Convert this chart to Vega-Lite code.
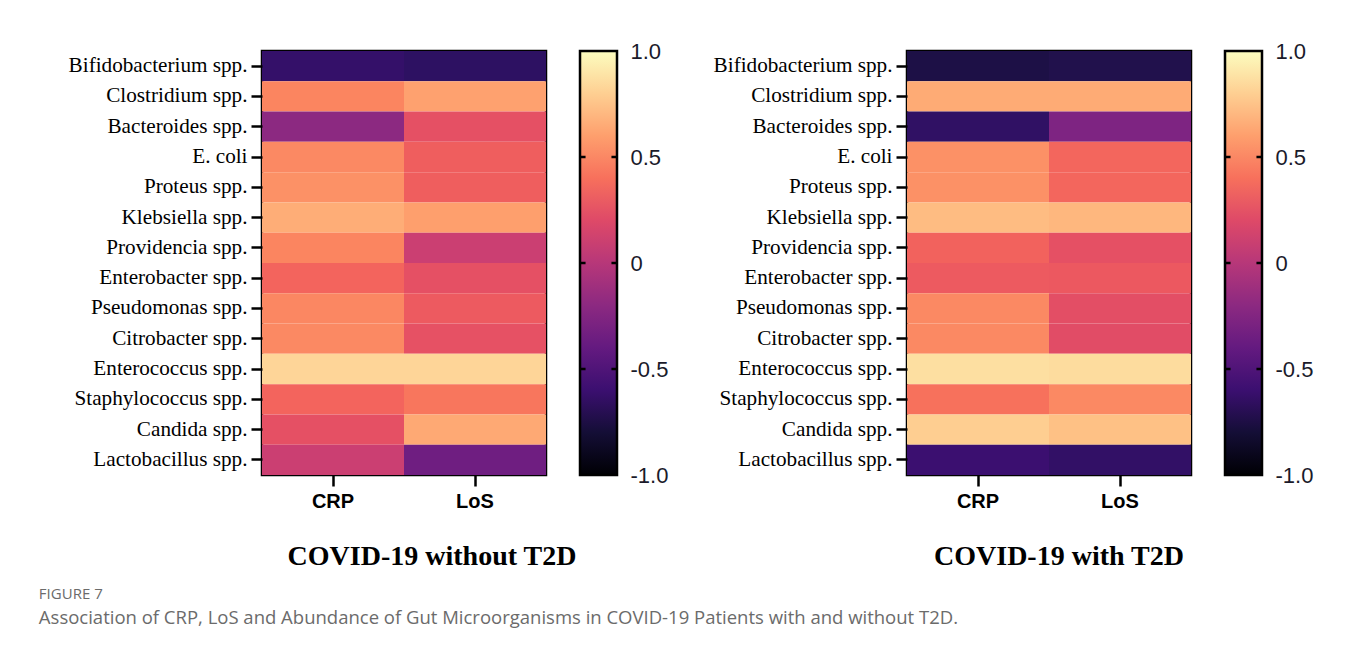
{
  "$schema": "https://vega.github.io/schema/vega-lite/v6.json",
  "background": "white",
  "padding": {"left": 38, "top": 40, "right": 10, "bottom": 10},
  "datasets": {
    "noT2D": [
      {"taxon": "Bifidobacterium spp.", "measure": "CRP", "r": -0.63}, {"taxon": "Bifidobacterium spp.", "measure": "LoS", "r": -0.66},
      {"taxon": "Clostridium spp.", "measure": "CRP", "r": 0.49}, {"taxon": "Clostridium spp.", "measure": "LoS", "r": 0.61},
      {"taxon": "Bacteroides spp.", "measure": "CRP", "r": -0.2}, {"taxon": "Bacteroides spp.", "measure": "LoS", "r": 0.24},
      {"taxon": "E. coli", "measure": "CRP", "r": 0.51}, {"taxon": "E. coli", "measure": "LoS", "r": 0.32},
      {"taxon": "Proteus spp.", "measure": "CRP", "r": 0.54}, {"taxon": "Proteus spp.", "measure": "LoS", "r": 0.32},
      {"taxon": "Klebsiella spp.", "measure": "CRP", "r": 0.66}, {"taxon": "Klebsiella spp.", "measure": "LoS", "r": 0.6},
      {"taxon": "Providencia spp.", "measure": "CRP", "r": 0.49}, {"taxon": "Providencia spp.", "measure": "LoS", "r": 0.1},
      {"taxon": "Enterobacter spp.", "measure": "CRP", "r": 0.35}, {"taxon": "Enterobacter spp.", "measure": "LoS", "r": 0.24},
      {"taxon": "Pseudomonas spp.", "measure": "CRP", "r": 0.5}, {"taxon": "Pseudomonas spp.", "measure": "LoS", "r": 0.3},
      {"taxon": "Citrobacter spp.", "measure": "CRP", "r": 0.51}, {"taxon": "Citrobacter spp.", "measure": "LoS", "r": 0.25},
      {"taxon": "Enterococcus spp.", "measure": "CRP", "r": 0.83}, {"taxon": "Enterococcus spp.", "measure": "LoS", "r": 0.83},
      {"taxon": "Staphylococcus spp.", "measure": "CRP", "r": 0.35}, {"taxon": "Staphylococcus spp.", "measure": "LoS", "r": 0.43},
      {"taxon": "Candida spp.", "measure": "CRP", "r": 0.24}, {"taxon": "Candida spp.", "measure": "LoS", "r": 0.64},
      {"taxon": "Lactobacillus spp.", "measure": "CRP", "r": 0.1}, {"taxon": "Lactobacillus spp.", "measure": "LoS", "r": -0.35}
    ],
    "T2D": [
      {"taxon": "Bifidobacterium spp.", "measure": "CRP", "r": -0.75}, {"taxon": "Bifidobacterium spp.", "measure": "LoS", "r": -0.73},
      {"taxon": "Clostridium spp.", "measure": "CRP", "r": 0.65}, {"taxon": "Clostridium spp.", "measure": "LoS", "r": 0.65},
      {"taxon": "Bacteroides spp.", "measure": "CRP", "r": -0.65}, {"taxon": "Bacteroides spp.", "measure": "LoS", "r": -0.27},
      {"taxon": "E. coli", "measure": "CRP", "r": 0.54}, {"taxon": "E. coli", "measure": "LoS", "r": 0.36},
      {"taxon": "Proteus spp.", "measure": "CRP", "r": 0.54}, {"taxon": "Proteus spp.", "measure": "LoS", "r": 0.36},
      {"taxon": "Klebsiella spp.", "measure": "CRP", "r": 0.72}, {"taxon": "Klebsiella spp.", "measure": "LoS", "r": 0.7},
      {"taxon": "Providencia spp.", "measure": "CRP", "r": 0.34}, {"taxon": "Providencia spp.", "measure": "LoS", "r": 0.24},
      {"taxon": "Enterobacter spp.", "measure": "CRP", "r": 0.3}, {"taxon": "Enterobacter spp.", "measure": "LoS", "r": 0.29},
      {"taxon": "Pseudomonas spp.", "measure": "CRP", "r": 0.51}, {"taxon": "Pseudomonas spp.", "measure": "LoS", "r": 0.23},
      {"taxon": "Citrobacter spp.", "measure": "CRP", "r": 0.51}, {"taxon": "Citrobacter spp.", "measure": "LoS", "r": 0.22},
      {"taxon": "Enterococcus spp.", "measure": "CRP", "r": 0.87}, {"taxon": "Enterococcus spp.", "measure": "LoS", "r": 0.86},
      {"taxon": "Staphylococcus spp.", "measure": "CRP", "r": 0.41}, {"taxon": "Staphylococcus spp.", "measure": "LoS", "r": 0.51},
      {"taxon": "Candida spp.", "measure": "CRP", "r": 0.8}, {"taxon": "Candida spp.", "measure": "LoS", "r": 0.74},
      {"taxon": "Lactobacillus spp.", "measure": "CRP", "r": -0.6}, {"taxon": "Lactobacillus spp.", "measure": "LoS", "r": -0.64}
    ],
    "ticks": [{"v": -0.5}, {"v": 0}, {"v": 0.5}],
    "bar": [{"lo": -1, "hi": 1}]
  },
  "title": {
    "text": "FIGURE 7",
    "subtitle": "Association of CRP, LoS and Abundance of Gut Microorganisms in COVID-19 Patients with and without T2D.",
    "orient": "bottom",
    "anchor": "start",
    "font": "Open Sans",
    "fontSize": 15,
    "fontWeight": "normal",
    "color": "#6b6b6b",
    "subtitleFont": "Open Sans",
    "subtitleFontSize": 18.5,
    "subtitleColor": "#6b6b6b",
    "subtitlePadding": 7,
    "offset": 15,
    "dx": -28
  },
  "spacing": 43,
  "hconcat": [
    {
      "bounds": "flush",
      "spacing": 34,
      "hconcat": [
        {
          "data": {"name": "noT2D"},
          "width": 284,
          "height": 424,
          "title": {"text": "COVID-19 without T2D", "orient": "bottom", "font": "Liberation Serif", "fontSize": 28, "fontWeight": "bold", "color": "black", "dx": 28, "offset": 32},
          "mark": {"type": "rect"},
          "encoding": {
            "x": {"field": "measure", "type": "nominal", "sort": ["CRP", "LoS"], "title": null},
            "y": {"field": "taxon", "type": "nominal", "title": null, "sort": ["Bifidobacterium spp.", "Clostridium spp.", "Bacteroides spp.", "E. coli", "Proteus spp.", "Klebsiella spp.", "Providencia spp.", "Enterobacter spp.", "Pseudomonas spp.", "Citrobacter spp.", "Enterococcus spp.", "Staphylococcus spp.", "Candida spp.", "Lactobacillus spp."]},
            "color": {"field": "r", "type": "quantitative", "scale": {"scheme": "magma", "domain": [-1, 1]}, "legend": null}
          }
        },
        {
          "width": 37,
          "height": 424,
          "view": {"stroke": null},
          "layer": [
            {
              "data": {"name": "bar"},
              "mark": {"type": "rect", "stroke": "black", "strokeWidth": 2.5, "color": {"gradient": "linear", "x1": 0, "y1": 1, "x2": 0, "y2": 0, "stops": [
                {"offset": 0, "color": "#000004"}, {"offset": 0.1, "color": "#140e36"}, {"offset": 0.2, "color": "#3b0f70"}, {"offset": 0.3, "color": "#641a80"}, {"offset": 0.4, "color": "#8c2981"}, {"offset": 0.5, "color": "#b73779"}, {"offset": 0.6, "color": "#de4968"}, {"offset": 0.7, "color": "#f7705c"}, {"offset": 0.8, "color": "#fe9f6d"}, {"offset": 0.9, "color": "#fecf92"}, {"offset": 1, "color": "#fcfdbf"}]}},
              "encoding": {
                "y": {"field": "lo", "type": "quantitative", "scale": {"domain": [-1, 1], "nice": false, "zero": false}, "axis": {"orient": "right", "values": [-1, -0.5, 0, 0.5, 1], "labelExpr": "datum.value == 0 ? '0' : (datum.value < 0 ? '-' : '') + format(abs(datum.value), '.1f')", "domain": false, "ticks": false, "grid": false, "labelFont": "Liberation Sans", "labelFontSize": 22, "labelColor": "#1a1a2a", "labelPadding": 13, "labelFlush": false, "labelOverlap": false, "title": null}},
                "y2": {"field": "hi"},
                "x": {"datum": 0, "type": "quantitative", "scale": {"domain": [0, 1], "nice": false, "zero": false}, "axis": null},
                "x2": {"datum": 1}
              }
            },
            {
              "data": {"name": "ticks"},
              "mark": {"type": "rule", "color": "black", "strokeWidth": 2.5},
              "encoding": {"y": {"field": "v", "type": "quantitative"}, "x": {"datum": 0, "type": "quantitative"}, "x2": {"datum": 0.15}}
            },
            {
              "data": {"name": "ticks"},
              "mark": {"type": "rule", "color": "black", "strokeWidth": 2.5},
              "encoding": {"y": {"field": "v", "type": "quantitative"}, "x": {"datum": 0.85, "type": "quantitative"}, "x2": {"datum": 1}}
            }
          ]
        }
      ]
    },
    {
      "bounds": "flush",
      "spacing": 34,
      "hconcat": [
        {
          "data": {"name": "T2D"},
          "width": 284,
          "height": 424,
          "title": {"text": "COVID-19 with T2D", "orient": "bottom", "font": "Liberation Serif", "fontSize": 28, "fontWeight": "bold", "color": "black", "dx": 10, "offset": 32},
          "mark": {"type": "rect"},
          "encoding": {
            "x": {"field": "measure", "type": "nominal", "sort": ["CRP", "LoS"], "title": null},
            "y": {"field": "taxon", "type": "nominal", "title": null, "sort": ["Bifidobacterium spp.", "Clostridium spp.", "Bacteroides spp.", "E. coli", "Proteus spp.", "Klebsiella spp.", "Providencia spp.", "Enterobacter spp.", "Pseudomonas spp.", "Citrobacter spp.", "Enterococcus spp.", "Staphylococcus spp.", "Candida spp.", "Lactobacillus spp."]},
            "color": {"field": "r", "type": "quantitative", "scale": {"scheme": "magma", "domain": [-1, 1]}, "legend": null}
          }
        },
        {
          "width": 37,
          "height": 424,
          "view": {"stroke": null},
          "layer": [
            {
              "data": {"name": "bar"},
              "mark": {"type": "rect", "stroke": "black", "strokeWidth": 2.5, "color": {"gradient": "linear", "x1": 0, "y1": 1, "x2": 0, "y2": 0, "stops": [
                {"offset": 0, "color": "#000004"}, {"offset": 0.1, "color": "#140e36"}, {"offset": 0.2, "color": "#3b0f70"}, {"offset": 0.3, "color": "#641a80"}, {"offset": 0.4, "color": "#8c2981"}, {"offset": 0.5, "color": "#b73779"}, {"offset": 0.6, "color": "#de4968"}, {"offset": 0.7, "color": "#f7705c"}, {"offset": 0.8, "color": "#fe9f6d"}, {"offset": 0.9, "color": "#fecf92"}, {"offset": 1, "color": "#fcfdbf"}]}},
              "encoding": {
                "y": {"field": "lo", "type": "quantitative", "scale": {"domain": [-1, 1], "nice": false, "zero": false}, "axis": {"orient": "right", "values": [-1, -0.5, 0, 0.5, 1], "labelExpr": "datum.value == 0 ? '0' : (datum.value < 0 ? '-' : '') + format(abs(datum.value), '.1f')", "domain": false, "ticks": false, "grid": false, "labelFont": "Liberation Sans", "labelFontSize": 22, "labelColor": "#1a1a2a", "labelPadding": 13, "labelFlush": false, "labelOverlap": false, "title": null}},
                "y2": {"field": "hi"},
                "x": {"datum": 0, "type": "quantitative", "scale": {"domain": [0, 1], "nice": false, "zero": false}, "axis": null},
                "x2": {"datum": 1}
              }
            },
            {
              "data": {"name": "ticks"},
              "mark": {"type": "rule", "color": "black", "strokeWidth": 2.5},
              "encoding": {"y": {"field": "v", "type": "quantitative"}, "x": {"datum": 0, "type": "quantitative"}, "x2": {"datum": 0.15}}
            },
            {
              "data": {"name": "ticks"},
              "mark": {"type": "rule", "color": "black", "strokeWidth": 2.5},
              "encoding": {"y": {"field": "v", "type": "quantitative"}, "x": {"datum": 0.85, "type": "quantitative"}, "x2": {"datum": 1}}
            }
          ]
        }
      ]
    }
  ],
  "config": {
    "view": {"stroke": "black", "strokeWidth": 2.5},
    "axisY": {"labelFont": "Liberation Serif", "labelFontSize": 21.2, "labelLimit": 400, "labelColor": "black", "tickColor": "black", "tickWidth": 2.5, "tickSize": 11, "labelPadding": 4, "domain": false},
    "axisX": {"labelFont": "Liberation Sans", "labelFontSize": 20, "labelFontWeight": "bold", "labelColor": "black", "labelAngle": 0, "tickColor": "black", "tickWidth": 2.5, "tickSize": 11, "labelPadding": 5, "domain": false}
  }
}
